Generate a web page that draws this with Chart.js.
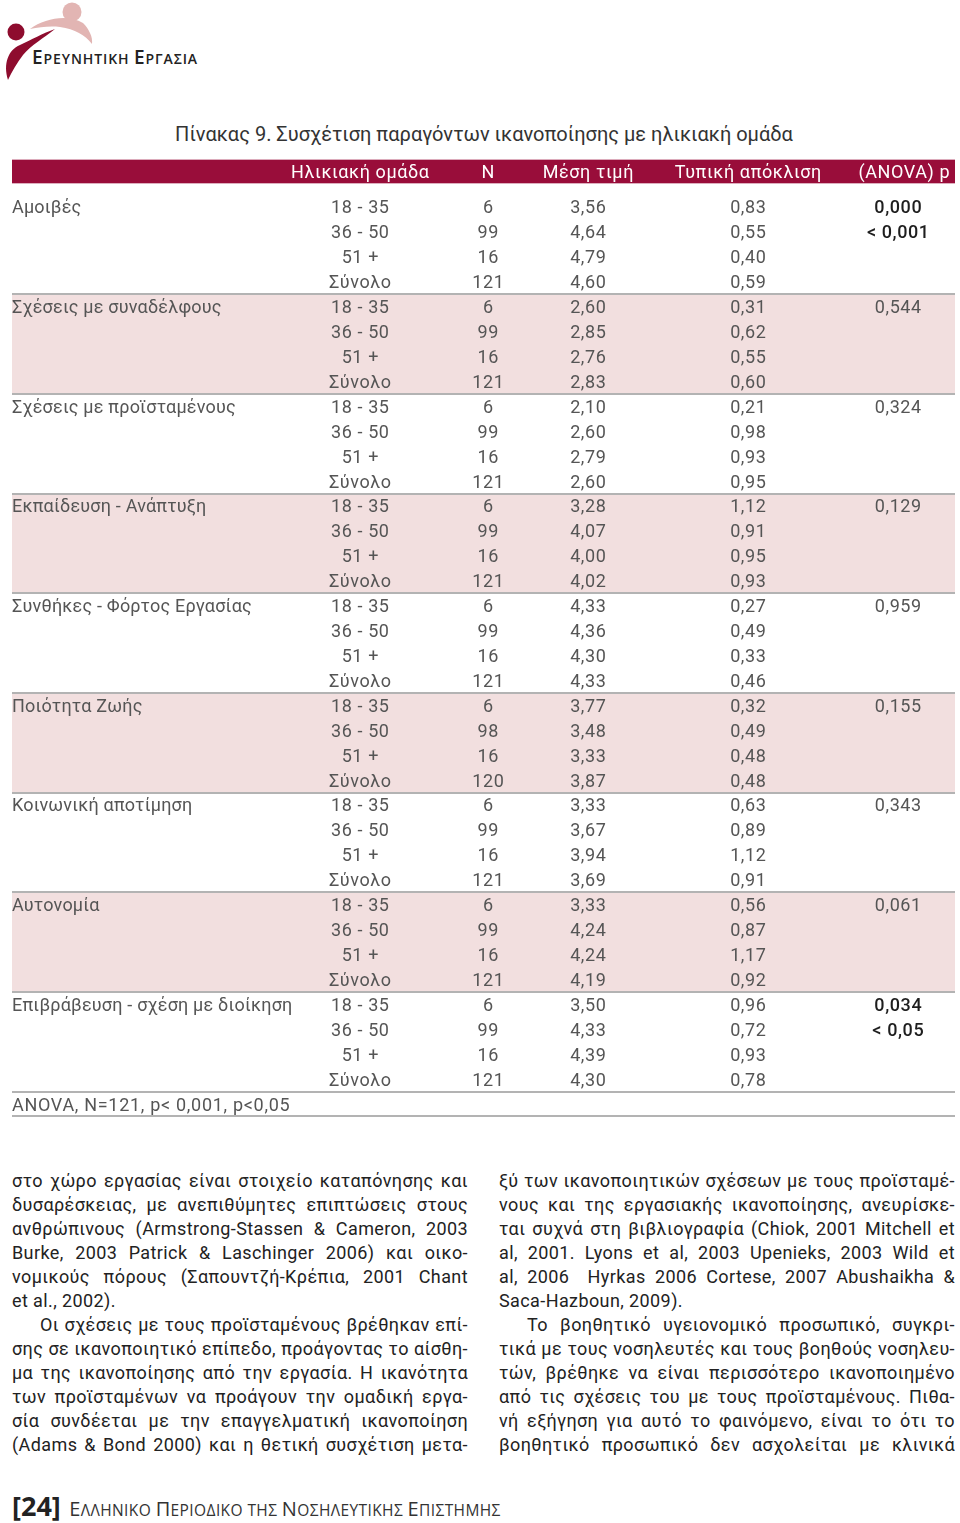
<!DOCTYPE html>
<html>
<head>
<meta charset="utf-8">
<script src="https://cdn.jsdelivr.net/npm/chart.js@4"></script>
<style>
  body { margin: 0; background: #fff; }
  #page { position: relative; width: 960px; height: 1523px; overflow: hidden; background: #fff; font-family: Roboto, sans-serif; }
  #logo { position: absolute; left: 0; top: 0; }
  .logo-text { position: absolute; left: 32px; top: 44px; font-family: "Open Sans", sans-serif; font-weight: 600; color: #222; font-size: 14px; letter-spacing: 0.9px; white-space: nowrap; }
  .logo-text b { font-weight: inherit; font-size: 19px; }
  .title { position: absolute; left: 0; width: 960px; top: 122px; text-align: center; font-size: 20px; color: #333; white-space: nowrap; padding-left: 4px; }
  #myChart { position: absolute; left: 0; top: 150px; }
  .col { position: absolute; top: 1169px; width: 456px; font-size: 18px; line-height: 24px; color: #222; letter-spacing: 0.4px; }
  .col.left { left: 12px; }
  .col.right { left: 499px; }
  .col div { text-align: justify; text-align-last: justify; white-space: nowrap; overflow: visible; }
  .col div.end { text-align-last: left; }
  .col div.ind { text-indent: 28px; }
  .footer { position: absolute; left: 12px; top: 1487px; font-family: "Open Sans", sans-serif; color: #333; font-size: 15.5px; letter-spacing: 0.4px; white-space: nowrap; }
  .footer .pg { font-size: 27px; font-weight: 700; color: #222; margin-right: 4px; letter-spacing: 0; }
  .footer b { font-size: 20px; font-weight: 400; }
</style>
</head>
<body>
<div id="page">
  <svg id="logo" width="110" height="90" viewBox="0 0 110 90">
    <circle cx="72" cy="12" r="9.5" fill="#e2b5b3"/>
    <path d="M30 29 C45 18 68 14 83 23 C89 29 93 37 92 44 C85 35 75 29 60 27 C50 26 40 27 30 29 Z" fill="#e2b5b3"/>
    <circle cx="16" cy="32" r="8.5" fill="#8e0c2e"/>
    <path d="M8 80 C3 64 8 50 20 45 C31 40 43 33 55 29 C44 38 31 45 23 55 C17 63 12 71 8 80 Z" fill="#8e0c2e"/>
  </svg>
  <div class="logo-text"><b>Ε</b>ΡΕΥΝΗΤΙΚΗ <b>Ε</b>ΡΓΑΣΙΑ</div>

  <div class="title">Πίνακας 9. Συσχέτιση παραγόντων ικανοποίησης με ηλικιακή ομάδα</div>

  <canvas id="myChart" width="960" height="975"></canvas>

  <div class="col left">
    <div>στο χώρο εργασίας είναι στοιχείο καταπόνησης και</div>
    <div>δυσαρέσκειας, με ανεπιθύμητες επιπτώσεις στους</div>
    <div>ανθρώπινους (Armstrong-Stassen &amp; Cameron, 2003</div>
    <div>Burke, 2003 Patrick &amp; Laschinger 2006) και οικο-</div>
    <div>νομικούς πόρους (Σαπουντζή-Κρέπια, 2001 Chant</div>
    <div class="end">et al., 2002).</div>
    <div class="ind">Οι σχέσεις με τους προϊσταμένους βρέθηκαν επί-</div>
    <div>σης σε ικανοποιητικό επίπεδο, προάγοντας το αίσθη-</div>
    <div>μα της ικανοποίησης από την εργασία. Η ικανότητα</div>
    <div>των προϊσταμένων να προάγουν την ομαδική εργα-</div>
    <div>σία συνδέεται με την επαγγελματική ικανοποίηση</div>
    <div>(Adams &amp; Bond 2000) και η θετική συσχέτιση μετα-</div>
  </div>
  <div class="col right">
    <div>ξύ των ικανοποιητικών σχέσεων με τους προϊσταμέ-</div>
    <div>νους και της εργασιακής ικανοποίησης, ανευρίσκε-</div>
    <div>ται συχνά στη βιβλιογραφία (Chiok, 2001 Mitchell et</div>
    <div>al, 2001. Lyons et al, 2003 Upenieks, 2003 Wild et</div>
    <div>al, 2006&nbsp; Hyrkas 2006 Cortese, 2007 Abushaikha &amp;</div>
    <div class="end">Saca-Hazboun, 2009).</div>
    <div class="ind">Το βοηθητικό υγειονομικό προσωπικό, συγκρι-</div>
    <div>τικά με τους νοσηλευτές και τους βοηθούς νοσηλευ-</div>
    <div>τών, βρέθηκε να είναι περισσότερο ικανοποιημένο</div>
    <div>από τις σχέσεις του με τους προϊσταμένους. Πιθα-</div>
    <div>νή εξήγηση για αυτό το φαινόμενο, είναι το ότι το</div>
    <div>βοηθητικό προσωπικό δεν ασχολείται με κλινικά</div>
  </div>

  <div class="footer"><span class="pg">[24]</span> <b>Ε</b>ΛΛΗΝΙΚΟ <b>Π</b>ΕΡΙΟΔΙΚΟ ΤΗΣ <b>Ν</b>ΟΣΗΛΕΥΤΙΚΗΣ <b>Ε</b>ΠΙΣΤΗΜΗΣ</div>
</div>

<script>
const factors = [
  "Αμοιβές",
  "Σχέσεις με συναδέλφους",
  "Σχέσεις με προϊσταμένους",
  "Εκπαίδευση - Ανάπτυξη",
  "Συνθήκες - Φόρτος Εργασίας",
  "Ποιότητα Ζωής",
  "Κοινωνική αποτίμηση",
  "Αυτονομία",
  "Επιβράβευση - σχέση με διοίκηση",
];
const ageGroups = ["18 - 35", "36 - 50", "51 +", "Σύνολο"];
const nValues = [
  [6, 99, 16, 121], [6, 99, 16, 121], [6, 99, 16, 121],
  [6, 99, 16, 121], [6, 99, 16, 121], [6, 98, 16, 120],
  [6, 99, 16, 121], [6, 99, 16, 121], [6, 99, 16, 121],
];
const means = [
  [3.56, 4.64, 4.79, 4.60], [2.60, 2.85, 2.76, 2.83], [2.10, 2.60, 2.79, 2.60],
  [3.28, 4.07, 4.00, 4.02], [4.33, 4.36, 4.30, 4.33], [3.77, 3.48, 3.33, 3.87],
  [3.33, 3.67, 3.94, 3.69], [3.33, 4.24, 4.24, 4.19], [3.50, 4.33, 4.39, 4.30],
];
const sds = [
  [0.83, 0.55, 0.40, 0.59], [0.31, 0.62, 0.55, 0.60], [0.21, 0.98, 0.93, 0.95],
  [1.12, 0.91, 0.95, 0.93], [0.27, 0.49, 0.33, 0.46], [0.32, 0.49, 0.48, 0.48],
  [0.63, 0.89, 1.12, 0.91], [0.56, 0.87, 1.17, 0.92], [0.96, 0.72, 0.93, 0.78],
];
const pValues = [0.000, 0.544, 0.324, 0.129, 0.959, 0.155, 0.343, 0.061, 0.034];
const pNotes = ["< 0,001", "", "", "", "", "", "", "", "< 0,05"];
const headers = ["Ηλικιακή ομάδα", "N", "Μέση τιμή", "Τυπική απόκλιση", "(ANOVA) p"];
const footnote = "ANOVA, N=121, p< 0,001, p<0,05";

// column anchors on the x scale (0..960) and header row on the y scale
const COL = { left: 12, age: 360, n: 488, mean: 588, sd: 748, p: 898, pHead: 904, right: 955 };
const HEAD = { top: -1.9, mid: -1.42, bottom: -0.95 };
const ROWS = factors.length * ageGroups.length;

const fmt = (v, d) => v.toFixed(d).replace(".", ",");

function column(x, fn) {
  const pts = [];
  factors.forEach((f, g) => ageGroups.forEach((a, k) => {
    const c = fn(g, k);
    if (c) pts.push(Object.assign({ x: x, y: g * 4 + k }, c));
  }));
  return pts;
}

const datasets = [
  { align: "center", color: "#fff", spacing: "0.6px", data: headers.map((h, i) => ({
      x: [COL.age, COL.n, COL.mean, COL.sd, COL.pHead][i], y: HEAD.mid, text: h })) },
  { align: "left", spacing: "0.2px", data: column(COL.left, (g, k) => k === 0 ? { text: factors[g] } : null)
      .concat([{ x: COL.left, y: ROWS, text: footnote, spacing: "0.7px" }]) },
  { align: "center", data: column(COL.age, (g, k) => ({ text: ageGroups[k] })) },
  { align: "center", data: column(COL.n, (g, k) => ({ text: String(nValues[g][k]) })) },
  { align: "center", data: column(COL.mean, (g, k) => ({ text: fmt(means[g][k], 2) })) },
  { align: "center", data: column(COL.sd, (g, k) => ({ text: fmt(sds[g][k], 2) })) },
  { align: "center", data: column(COL.p, (g, k) => {
      if (k === 0) return { text: fmt(pValues[g], 3), bold: pValues[g] < 0.05 };
      if (k === 1 && pNotes[g]) return { text: pNotes[g], bold: true };
      return null;
    }) },
];

const tableBack = {
  id: "tableBack",
  beforeDatasetsDraw(chart) {
    const { ctx, scales: { x, y } } = chart;
    const x0 = x.getPixelForValue(COL.left), x1 = x.getPixelForValue(COL.right);
    ctx.save();
    // header bar
    ctx.fillStyle = "#990d3a";
    const h0 = y.getPixelForValue(HEAD.top), h1 = y.getPixelForValue(HEAD.bottom);
    ctx.fillRect(x0, h0, x1 - x0, h1 - h0);
    // shaded groups
    ctx.fillStyle = "#f2dfdf";
    factors.forEach((f, g) => {
      if (g % 2 === 1) {
        const a = y.getPixelForValue(g * 4 - 0.5), b = y.getPixelForValue(g * 4 + 3.5);
        ctx.fillRect(x0, a, x1 - x0, b - a);
      }
    });
    // separators
    ctx.strokeStyle = "#b3b3b3";
    ctx.lineWidth = 2;
    for (let g = 1; g <= factors.length + 1; g++) {
      const yy = Math.round(y.getPixelForValue(g * 4 - 0.5 - (g > factors.length ? 3 : 0)));
      ctx.beginPath();
      ctx.moveTo(x0, yy);
      ctx.lineTo(x1, yy);
      ctx.stroke();
    }
    ctx.restore();
  },
};

const tableText = {
  id: "tableText",
  afterDatasetsDraw(chart) {
    const ctx = chart.ctx;
    ctx.save();
    ctx.textBaseline = "middle";
    chart.data.datasets.forEach((ds, i) => {
      chart.getDatasetMeta(i).data.forEach((el, j) => {
        const cell = ds.data[j];
        ctx.letterSpacing = cell.spacing || ds.spacing || "0.6px";
        ctx.textAlign = ds.align;
        ctx.font = (cell.bold ? "500 " : "400 ") + "18px Roboto";
        ctx.fillStyle = ds.color || (cell.bold ? "#1e1e1e" : "#555");
        ctx.fillText(cell.text, el.x + (ds.align === "center" ? 0.3 : 0), el.y + 2);
      });
    });
    ctx.restore();
  },
};

Chart.defaults.font.family = "Roboto";

const myChart = new Chart(document.getElementById("myChart"), {
  type: "scatter",
  data: { datasets: datasets.map((d) => Object.assign({ pointRadius: 0, pointHoverRadius: 0, clip: false }, d)) },
  options: {
    responsive: false,
    animation: false,
    devicePixelRatio: 1,
    layout: { padding: 0 },
    events: [],
    plugins: { legend: { display: false }, tooltip: { enabled: false } },
    scales: {
      x: { type: "linear", min: 0, max: 960, display: false },
      y: { type: "linear", reverse: true, min: -2.2876, max: 36.8428, display: false },
    },
  },
  plugins: [tableBack, tableText],
});
</script>
</body>
</html>
